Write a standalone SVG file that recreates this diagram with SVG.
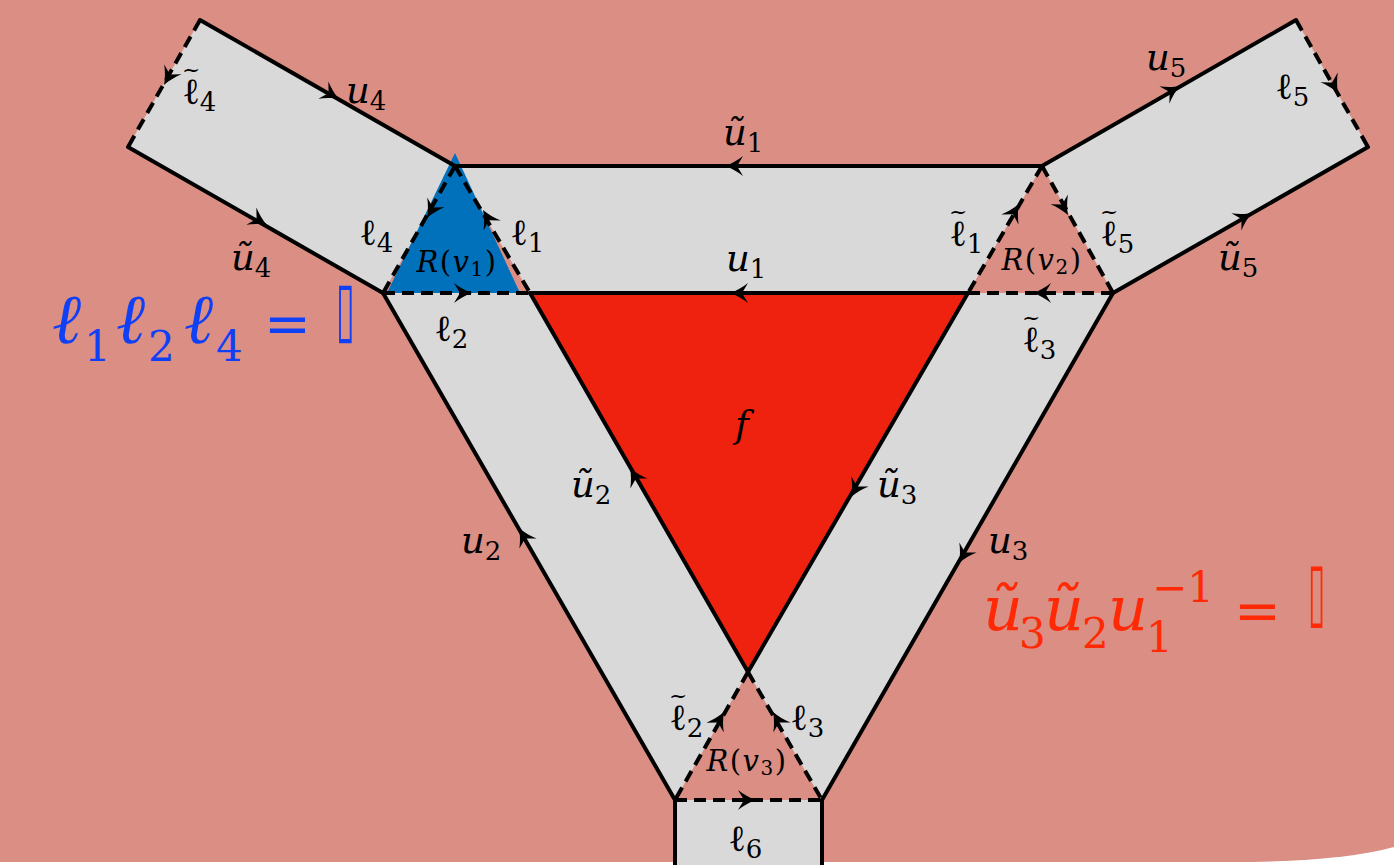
<svg xmlns="http://www.w3.org/2000/svg" xmlns:xlink="http://www.w3.org/1999/xlink" width="1394" height="865" viewBox="0 0 1394 865">
<style>
.solid{fill:none;stroke:#000;stroke-width:4;stroke-linecap:round}
.dash{fill:none;stroke:#000;stroke-width:4;stroke-dasharray:12 7}
.lbl{font-family:"DejaVu Serif","Liberation Serif",serif;font-size:37px;fill:#000}
.it{font-style:italic}
.sub{font-size:26px;font-style:normal}
.tl{font-size:22px;font-style:normal}
.rv{font-family:"DejaVu Serif","Liberation Serif",serif;font-size:29px;fill:#000;letter-spacing:1.5px}
.big{font-family:"DejaVu Serif","Liberation Serif",serif;font-size:62px;font-style:italic}
.bigl{font-size:70px}
.bigsub{font-size:42px;font-style:normal}
.eq{font-style:normal;font-size:56px}
.box{font-family:"DejaVu Sans",sans-serif;font-size:52px}
</style>
<defs>
<path id="ar" d="M0,0 C-6,-2 -13,-6 -18,-10 L-12,0 L-18,10 C-13,6 -6,2 0,0 Z" fill="#000"/>
</defs>
<g id="background">
<rect x="0" y="0" width="1394" height="865" fill="#ffffff"/>
<path d="M0,0 H1394 V847 Q1340,862 1230,862 H0 Z" fill="#DA8E84"/>
</g>
<g id="band">
<polygon points="200,20 455,166 1042,166 1296,20 1368,147 1113,293 822,800 822,865 675,865 675,800 383,293 128,147" fill="#D9D9D9"/>
</g>
<g id="face-f">
<polygon points="530,293 968,293 748,672" fill="#EE220F"/>
<text class="lbl it" x="735" y="437">f</text>
</g>
<g id="R-v1">
<polygon points="455,166 383,293 530,293" fill="#DA8E84"/>
<polygon points="455,153 387,293 520,293" fill="#0071BA"/>
</g>
<g id="R-v2">
<polygon points="1042,166 968,293 1113,293" fill="#DA8E84"/>
</g>
<g id="R-v3">
<polygon points="748,672 675,800 822,800" fill="#DA8E84"/>
</g>
<g id="connectors">
<line class="solid" x1="200" y1="20" x2="455" y2="166"/>
<line class="solid" x1="128" y1="147" x2="383" y2="293"/>
<line class="solid" x1="455" y1="166" x2="1042" y2="166"/>
<line class="solid" x1="530" y1="293" x2="968" y2="293"/>
<line class="solid" x1="1042" y1="166" x2="1296" y2="20"/>
<line class="solid" x1="1368" y1="147" x2="1113" y2="293"/>
<line class="solid" x1="383" y1="293" x2="675" y2="800"/>
<line class="solid" x1="530" y1="293" x2="748" y2="672"/>
<line class="solid" x1="968" y1="293" x2="748" y2="672"/>
<line class="solid" x1="1113" y1="293" x2="822" y2="800"/>
<line class="solid" x1="675" y1="800" x2="675" y2="865"/>
<line class="solid" x1="822" y1="800" x2="822" y2="865"/>
<line class="dash" x1="200" y1="20" x2="128" y2="147"/>
<line class="dash" x1="1296" y1="20" x2="1368" y2="147"/>
<line class="dash" x1="455" y1="166" x2="383" y2="293"/>
<line class="dash" x1="455" y1="166" x2="530" y2="293"/>
<line class="dash" x1="383" y1="293" x2="530" y2="293"/>
<line class="dash" x1="1042" y1="166" x2="968" y2="293"/>
<line class="dash" x1="1042" y1="166" x2="1113" y2="293"/>
<line class="dash" x1="968" y1="293" x2="1113" y2="293"/>
<line class="dash" x1="748" y1="672" x2="675" y2="800"/>
<line class="dash" x1="748" y1="672" x2="822" y2="800"/>
<line class="dash" x1="675" y1="800" x2="822" y2="800"/>
<use xlink:href="#ar" transform="translate(339,99) rotate(29.8)"/>
<use xlink:href="#ar" transform="translate(267,225) rotate(29.8)"/>
<use xlink:href="#ar" transform="translate(164,85) rotate(119.6)"/>
<use xlink:href="#ar" transform="translate(725,166) rotate(180)"/>
<use xlink:href="#ar" transform="translate(730,293) rotate(180)"/>
<use xlink:href="#ar" transform="translate(1180,86) rotate(-29.9)"/>
<use xlink:href="#ar" transform="translate(1338,93) rotate(60.4)"/>
<use xlink:href="#ar" transform="translate(1252,213) rotate(-29.8)"/>
<use xlink:href="#ar" transform="translate(519,528) rotate(-120.1)"/>
<use xlink:href="#ar" transform="translate(630,468) rotate(-119.9)"/>
<use xlink:href="#ar" transform="translate(851,497) rotate(120.1)"/>
<use xlink:href="#ar" transform="translate(959,563) rotate(119.9)"/>
<use xlink:href="#ar" transform="translate(427,218) rotate(119.6)"/>
<use xlink:href="#ar" transform="translate(483,210) rotate(-120.6)"/>
<use xlink:href="#ar" transform="translate(472,293)"/>
<use xlink:href="#ar" transform="translate(1019,204) rotate(-59.8)"/>
<use xlink:href="#ar" transform="translate(1068,215) rotate(60.8)"/>
<use xlink:href="#ar" transform="translate(1033,293) rotate(180)"/>
<use xlink:href="#ar" transform="translate(724,712) rotate(-60.3)"/>
<use xlink:href="#ar" transform="translate(773,712) rotate(-120)"/>
<use xlink:href="#ar" transform="translate(756,800)"/>
</g>
<g id="labels">
<text class="lbl" x="182" y="104">ℓ<tspan class="sub" dy="7">4</tspan><tspan class="tl" x="182" dy="-34">~</tspan></text>
<text class="lbl it" x="346" y="103">u<tspan class="sub" dy="7">4</tspan></text>
<text class="lbl it" x="723" y="145">ũ<tspan class="sub" dy="7">1</tspan></text>
<text class="lbl it" x="1146" y="70">u<tspan class="sub" dy="7">5</tspan></text>
<text class="lbl" x="1275" y="99">ℓ<tspan class="sub" dy="7">5</tspan></text>
<text class="lbl" x="359" y="245">ℓ<tspan class="sub" dy="7">4</tspan></text>
<text class="lbl" x="510" y="245">ℓ<tspan class="sub" dy="7">1</tspan></text>
<text class="rv" x="457" y="272" text-anchor="middle"><tspan class="it">R</tspan>(<tspan class="it">v</tspan><tspan font-size="20" dy="4">1</tspan><tspan dy="-4">)</tspan></text>
<text class="lbl it" x="231" y="270">ũ<tspan class="sub" dy="7">4</tspan></text>
<text class="lbl it" x="726" y="271">u<tspan class="sub" dy="7">1</tspan></text>
<text class="lbl" x="949" y="246">ℓ<tspan class="sub" dy="7">1</tspan><tspan class="tl" x="949" dy="-34">~</tspan></text>
<text class="rv" x="1042" y="270" text-anchor="middle"><tspan class="it">R</tspan>(<tspan class="it">v</tspan><tspan font-size="20" dy="4">2</tspan><tspan dy="-4">)</tspan></text>
<text class="lbl" x="1100" y="246">ℓ<tspan class="sub" dy="7">5</tspan><tspan class="tl" x="1100" dy="-34">~</tspan></text>
<text class="lbl it" x="1218" y="270">ũ<tspan class="sub" dy="7">5</tspan></text>
<text class="lbl" x="434" y="341">ℓ<tspan class="sub" dy="7">2</tspan></text>
<text class="lbl" x="1022" y="352">ℓ<tspan class="sub" dy="7">3</tspan><tspan class="tl" x="1022" dy="-34">~</tspan></text>
<text class="lbl it" x="571" y="497">ũ<tspan class="sub" dy="7">2</tspan></text>
<text class="lbl it" x="877" y="497">ũ<tspan class="sub" dy="7">3</tspan></text>
<text class="lbl it" x="461" y="553">u<tspan class="sub" dy="7">2</tspan></text>
<text class="lbl it" x="988" y="553">u<tspan class="sub" dy="7">3</tspan></text>
<text class="lbl" x="669" y="730">ℓ<tspan class="sub" dy="7">2</tspan><tspan class="tl" x="669" dy="-34">~</tspan></text>
<text class="lbl" x="790" y="730">ℓ<tspan class="sub" dy="7">3</tspan></text>
<text class="rv" x="747" y="771" text-anchor="middle"><tspan class="it">R</tspan>(<tspan class="it">v</tspan><tspan font-size="20" dy="4">3</tspan><tspan dy="-4">)</tspan></text>
<text class="lbl" x="728" y="851">ℓ<tspan class="sub" dy="7">6</tspan></text>
</g>
<g id="formula-blue" fill="#1040F5">
<text class="big" x="52" y="343"><tspan class="bigl">ℓ</tspan><tspan class="bigsub" x="84" y="361">1</tspan><tspan class="bigl" x="116" y="343">ℓ</tspan><tspan class="bigsub" x="148" y="361">2</tspan><tspan class="bigl" x="184" y="343">ℓ</tspan><tspan class="bigsub" x="216" y="361">4</tspan><tspan class="eq" x="264" y="343">=</tspan></text>
<text class="box" transform="translate(336,334) scale(0.65,1.45)">▯</text>
</g>
<g id="formula-red" fill="#FF2A05">
<text class="big" x="983" y="630">ũ<tspan class="bigsub" x="1019" y="648">3</tspan><tspan x="1044" y="630">ũ</tspan><tspan class="bigsub" x="1082" y="648">2</tspan><tspan x="1108" y="630">u</tspan><tspan class="bigsub" x="1146" y="652">1</tspan><tspan class="bigsub" x="1152" y="602">−1</tspan><tspan class="eq" x="1234" y="630">=</tspan></text>
<text class="box" transform="translate(1308,618) scale(0.6,1.55)">▯</text>
</g>
</svg>
